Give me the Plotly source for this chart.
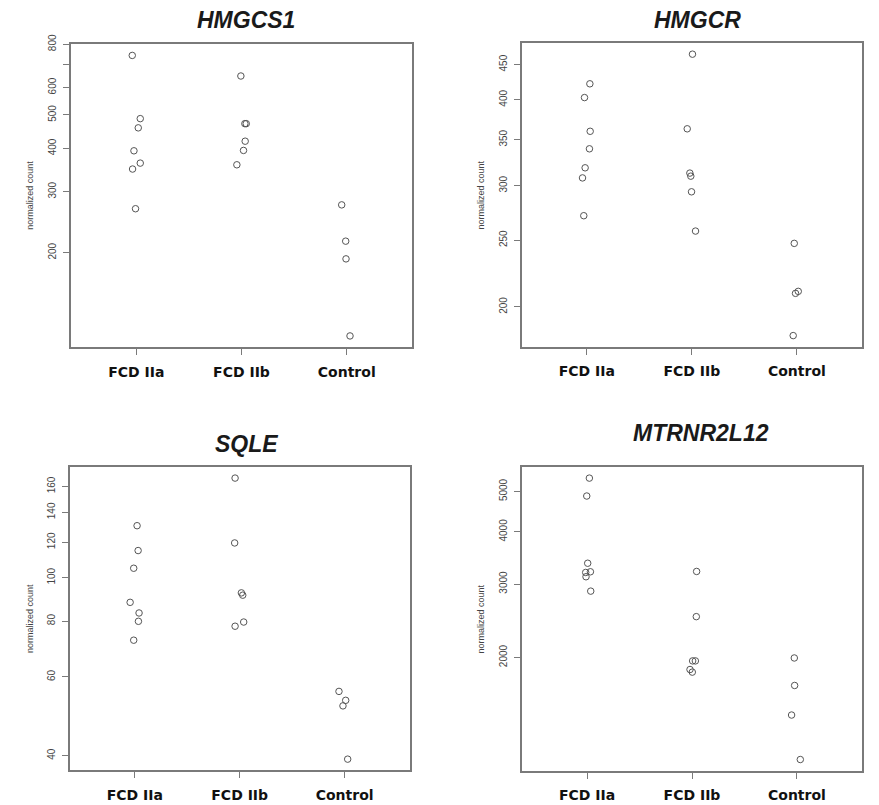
import numpy as np
import plotly.graph_objects as go

W, H = 879, 805

groups = ["FCD IIa", "FCD IIb", "Control"]
genes = ["HMGCS1", "HMGCR", "SQLE", "MTRNR2L12"]

# normalized counts per group (FCD IIa, FCD IIb, Control)
HMGCS1_values = [[743, 488, 459, 394, 363, 349, 268],
                 [648, 472, 472, 420, 395, 359],
                 [275, 216, 192, 115]]
HMGCS1_jitter = [[-0.038, 0.038, 0.019, -0.022, 0.038, -0.035, -0.007],
                 [-0.006, 0.032, 0.045, 0.035, 0.019, -0.044],
                 [-0.048, -0.010, -0.007, 0.031]]

HMGCR_values = [[422, 403, 360, 339.5, 318.6, 308, 271.4],
                [466, 363, 313, 309.8, 294, 257.8],
                [247.4, 209.3, 210.7, 181.7]]
HMGCR_jitter = [[0.029, -0.022, 0.032, 0.025, -0.016, -0.041, -0.029],
                [0.006, -0.044, -0.019, -0.010, -0.003, 0.035],
                [-0.025, -0.013, 0.013, -0.035]]

SQLE_values = [[130.7, 115, 105, 88.1, 83.4, 79.9, 72.5],
               [167, 119.6, 92.5, 91.4, 79.6, 77.9],
               [55.7, 53.2, 51.7, 39.3]]
SQLE_jitter = [[0.022, 0.032, -0.010, -0.044, 0.041, 0.035, -0.010],
               [-0.044, -0.048, 0.016, 0.029, 0.038, -0.044],
               [-0.054, 0.010, -0.016, 0.029]]

MTRNR2L12_values = [[5383, 4876, 3365, 3210, 3198, 3123, 2885],
                    [3216, 2506, 1963, 1963, 1872, 1845],
                    [1995, 1714, 1456, 1139]]
MTRNR2L12_jitter = [[0.022, -0.003, 0.006, 0.032, -0.013, -0.010, 0.035],
                    [0.044, 0.041, 0.006, 0.032, -0.019, 0.003],
                    [-0.025, -0.022, -0.051, 0.032]]

HMGCS1_ticks = [200, 300, 400, 500, 600, 700, 800]
HMGCS1_ticklabels = ["200", "300", "400", "500", "600", "", "800"]
HMGCR_ticks = [200, 250, 300, 350, 400, 450]
SQLE_ticks = [40, 60, 80, 100, 120, 140, 160]
MTRNR2L12_ticks = [2000, 3000, 4000, 5000]

values = [HMGCS1_values, HMGCR_values, SQLE_values, MTRNR2L12_values]
jitters = [HMGCS1_jitter, HMGCR_jitter, SQLE_jitter, MTRNR2L12_jitter]
ticks = [HMGCS1_ticks, HMGCR_ticks, SQLE_ticks, MTRNR2L12_ticks]
ticklabels = [HMGCS1_ticklabels, [str(t) for t in HMGCR_ticks],
              [str(t) for t in SQLE_ticks], [str(t) for t in MTRNR2L12_ticks]]

# panel boxes in pixels: (left, right, top, bottom)
boxes = [(71, 412, 42.3, 346), (521.7, 862, 41, 345.7),
         (69.7, 409.7, 466, 770.3), (522, 862, 466, 770.7)]
title_pos = [(246, 18), (697, 18), (246.7, 442.7), (701, 432.3)]
ylab_x = [30, 480.7, 29.3, 480.7]

# the captured page shows the figure starting ~8px down and slightly compressed
TOP_OFF = 8.0
VSCALE = (H - TOP_OFF) / H


def fy(y):
    """target screen y (px from top) -> paper y fraction"""
    return 1 - ((y - TOP_OFF) / VSCALE) / H


fig = go.Figure()
BOX = "#7a7a7a"
PT = "#555555"

for i in range(4):
    ax = "" if i == 0 else str(i + 1)
    xs, ys = [], []
    for g in range(3):
        for v, j in zip(values[i][g], jitters[i][g]):
            xs.append(g + 1 + j)
            ys.append(v)
    fig.add_trace(go.Scatter(
        x=xs, y=ys, mode="markers", xaxis="x" + ax, yaxis="y" + ax,
        marker=dict(symbol="circle-open", size=6.5, color=PT, line=dict(width=1, color=PT)),
        showlegend=False, hoverinfo="skip"))
    allv = np.log10([v for grp in values[i] for v in grp])
    lo, hi = allv.min(), allv.max()
    pad = 0.04 * (hi - lo)
    l, r, t, b = boxes[i]
    fig.layout["xaxis" + ax] = dict(
        domain=[l / W, r / W], anchor="y" + ax, range=[0.38, 3.62],
        tickvals=[1, 2, 3], ticktext=["<b>%s</b>" % g for g in groups],
        tickfont=dict(family="DejaVu Sans", size=14, color="#111"),
        ticks="outside", ticklen=6, tickcolor=BOX, tickwidth=1.2,
        showline=True, linecolor=BOX, linewidth=1.5, mirror=True,
        showgrid=False, zeroline=False, ticklabelstandoff=5)
    fig.layout["yaxis" + ax] = dict(
        domain=[fy(b), fy(t)], anchor="x" + ax, type="log",
        range=[lo - pad, hi + pad],
        tickvals=ticks[i], ticktext=ticklabels[i], tickangle=-90,
        tickfont=dict(family="Liberation Sans", size=10, color="#444"),
        ticks="outside", ticklen=6, tickcolor=BOX, tickwidth=1.2,
        showline=True, linecolor=BOX, linewidth=1.5, mirror=True,
        showgrid=False, zeroline=False, ticklabelstandoff=3)
    tx, ty = title_pos[i]
    fig.add_annotation(x=tx / W, y=fy(ty), xref="paper", yref="paper",
                       text="<b><i>%s</i></b>" % genes[i], showarrow=False,
                       xanchor="center", yanchor="middle",
                       font=dict(family="Liberation Sans", size=23, color="#1a1a1a"))
    fig.add_annotation(x=ylab_x[i] / W, y=fy((t + b) / 2), xref="paper", yref="paper",
                       text="normalized count", textangle=-90, showarrow=False,
                       xanchor="center", yanchor="middle",
                       font=dict(family="Liberation Sans", size=9, color="#444"))

fig.update_layout(width=W, height=H, margin=dict(l=0, r=0, t=0, b=0),
                  paper_bgcolor="white", plot_bgcolor="white")
pin = ("document.body.style.margin='0';document.body.style.overflow='hidden';"
       "var d=document.getElementById('{plot_id}');"
       "d.style.position='fixed';d.style.left='0px';d.style.top='0px';")
fig.write_html("out.html", config={"displayModeBar": False}, post_script=pin)
